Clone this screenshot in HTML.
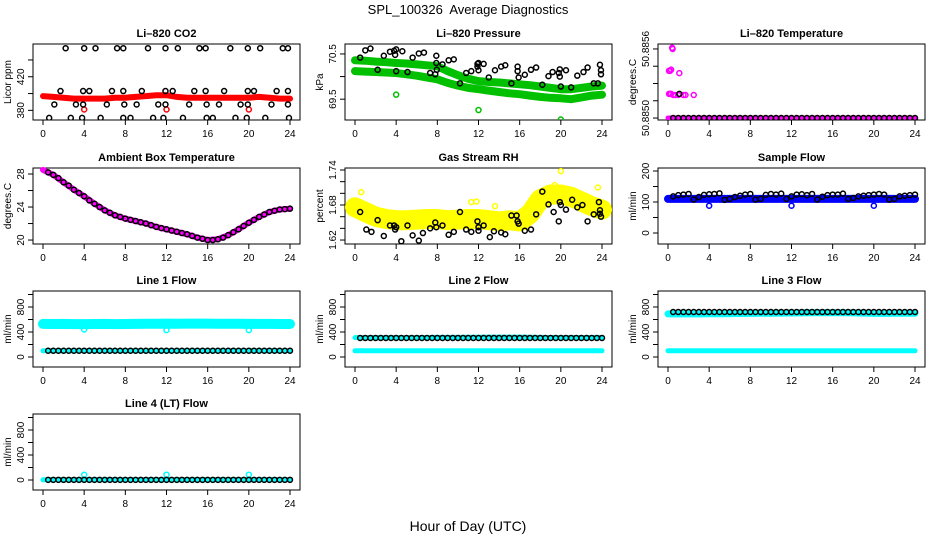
<!DOCTYPE html>
<html><head><meta charset="utf-8"><style>
html,body{margin:0;padding:0;background:#fff;}
svg{display:block;font-family:"Liberation Sans",sans-serif;}
</style></head><body>
<svg id="chart" width="936" height="540" viewBox="0 0 936 540">
<rect x="0" y="0" width="936" height="540" fill="#fff"/>
<text x="468" y="14" font-size="13" text-anchor="middle">SPL_100326&#160; Average Diagnostics</text>
<text x="468" y="531" font-size="14" text-anchor="middle">Hour of Day (UTC)</text>
</svg>
<script>
const HR=[0,1,2,3,4,5,6,7,8,9,10,11,12,13,14,15,16,17,18,19,20,21,22,23,24];
const HH=[0.5,1,1.5,2,2.5,3,3.5,4,4.5,5,5.5,6,6.5,7,7.5,8,8.5,9,9.5,10,10.5,11,11.5,12,12.5,13,13.5,14,14.5,15,15.5,16,16.5,17,17.5,18,18.5,19,19.5,20,20.5,21,21.5,22,22.5,23,23.5,24];
const xTicks=[0,4,8,12,16,20,24];
// CO2
const co2Red=[397,396,395,394,394,394,394,395,395,396,397,398,398,396,395,395,395,395,395,395,395,396,395,394,394];
const co2RedOutX=[4,12,20];
const co2RedOutY=[381,381,381];
const co2BlackX=[2.2,4.0,5.1,7.2,7.8,10.2,11.9,13.1,15.2,15.8,18.2,19.9,21.1,23.3,23.8,1.7,3.9,4.5,6.7,7.8,9.6,11.9,12.6,14.7,15.8,17.6,19.9,20.5,22.7,23.8,1.1,3.2,3.9,6.2,7.9,9.1,11.2,11.9,14.2,15.9,17.1,19.2,19.9,22.2,23.8,0.6,2.7,3.8,5.6,7.8,8.5,10.7,11.7,13.6,15.9,16.5,18.7,19.8,21.6,23.9];
const co2BlackY=[454,454,454,454,454,454,454,454,454,454,454,454,454,454,454,403,403,403,403,403,403,403,403,403,403,403,403,403,403,403,387,387,387,387,387,387,387,387,387,387,387,387,387,387,387,371,371,371,371,371,371,371,371,371,371,371,371,371,371,371];
// Pressure
const presUpper=[70.36,70.35,70.33,70.32,70.30,70.29,70.27,70.25,70.23,70.12,70.03,69.95,69.9,69.88,69.87,69.85,69.83,69.81,69.78,69.75,69.72,69.72,69.75,69.78,69.8];
const presLower=[70.12,70.11,70.1,70.09,70.08,70.05,70.02,69.98,69.94,69.86,69.8,69.75,69.72,69.69,69.66,69.63,69.61,69.58,69.55,69.53,69.52,69.5,69.54,69.58,69.6];
const presOutX=[4,12,20];
const presOutY=[69.6,69.26,69.05];
const presBlackX=[0.5,1,1.5,2.2,2.8,3.4,3.8,3.9,4,4,4.6,5.1,5.6,6.2,6.7,7.3,7.8,7.9,7.9,7.95,8.5,9.1,9.6,10.2,10.8,11.3,11.9,11.9,12,12,12.5,13,13.6,14.2,14.6,15.2,15.8,15.8,15.9,16.5,17.1,17.6,18.2,18.8,19.2,19.8,19.9,19.9,20,20.5,21,21.6,22.2,22.6,23.2,23.6,23.8,23.9,23.9];
const presBlackY=[70.42,70.58,70.62,70.15,70.46,70.55,70.57,70.48,70.6,70.12,70.56,70.1,70.42,70.51,70.53,70.08,70.05,70.46,70.3,70.15,70.27,70.36,70.38,69.85,70.08,70.12,70.28,70.22,70.3,70.14,70.28,69.98,70.14,70.22,70.25,69.85,70.22,70.12,69.98,70.04,70.15,70.2,69.82,70.01,70.1,70.08,70.16,70.0,69.78,70.14,69.76,70.02,70.1,70.2,69.85,69.85,70.26,70.14,70.05];
// Li-820 temperature
const tempBase=[50.885,50.885,50.885,50.885,50.885,50.885,50.885,50.885,50.885,50.885,50.885,50.885,50.885,50.885,50.885,50.885,50.885,50.885,50.885,50.885,50.885,50.885,50.885,50.885,50.885];
const tempOutX=[0.4,0.45,0.1,0.2,0.3,1.1,0.1,0.2,0.3,0.5,0.7,1.0,1.5,1.7,2.5];
const tempOutY=[50.88561,50.88560,50.88541,50.88541,50.88542,50.88539,50.88521,50.88521,50.88521,50.8852,50.8852,50.8852,50.8852,50.8852,50.8852];
const tempBlack=[50.885,50.885,50.885,50.885,50.885,50.885,50.885,50.885,50.885,50.885,50.885,50.885,50.885,50.885,50.885,50.885,50.885,50.885,50.885,50.885,50.885,50.885,50.885,50.885,50.885,50.885,50.885,50.885,50.885,50.885,50.885,50.885,50.885,50.885,50.885,50.885,50.885,50.885,50.885,50.885,50.885,50.885,50.885,50.885,50.885,50.885,50.885,50.885];
// Ambient
const ambCurve=[28.5,27.9,27.0,26.1,25.3,24.4,23.6,23.0,22.6,22.3,22.0,21.6,21.3,21.0,20.7,20.3,20.0,20.1,20.6,21.3,22.1,22.8,23.4,23.7,23.8];
const ambBlack=[28.2,27.9,27.5,27.0,26.6,26.1,25.7,25.3,24.8,24.4,24.0,23.6,23.3,23.0,22.8,22.6,22.45,22.3,22.15,22.0,21.8,21.6,21.45,21.3,21.15,21.0,20.85,20.7,20.5,20.3,20.15,20.0,20.0,20.1,20.3,20.6,20.95,21.3,21.7,22.1,22.45,22.8,23.1,23.4,23.55,23.7,23.75,23.8];
// RH
const rhYellow=[1.676,1.668,1.66,1.656,1.654,1.654,1.655,1.656,1.656,1.654,1.655,1.656,1.656,1.654,1.652,1.654,1.652,1.665,1.69,1.698,1.698,1.694,1.686,1.678,1.672];
const rhOutX=[20,0.6,11.3,11.8,13.6,19.4,23.6];
const rhOutY=[1.738,1.702,1.685,1.686,1.678,1.714,1.710];
const rhBlackX=[0.5,1.1,1.6,2.2,2.8,3.4,3.8,3.9,4,4.5,5.1,5.6,6.2,6.6,7.3,7.8,7.9,8.5,9.1,9.6,10.2,10.8,11.3,11.9,12,12,12.5,13.1,13.5,14.2,14.6,15.2,15.7,15.8,15.9,16.5,17.1,17.6,18.2,18.8,19.3,19.8,19.9,20,20.5,21.1,21.6,22.1,22.6,23.2,23.7,23.8,23.8,23.9];
const rhBlackY=[1.668,1.638,1.634,1.654,1.627,1.645,1.645,1.638,1.642,1.618,1.645,1.628,1.619,1.632,1.640,1.650,1.642,1.645,1.629,1.634,1.668,1.638,1.634,1.652,1.642,1.636,1.645,1.625,1.635,1.633,1.630,1.662,1.662,1.652,1.648,1.636,1.638,1.664,1.703,1.681,1.668,1.652,1.685,1.680,1.672,1.689,1.676,1.680,1.652,1.664,1.685,1.671,1.665,1.660];
// Sample flow
const sampBand=[110,110,110,110,110,110,110,110,110,110,110,110,110,110,110,110,110,110,110,110,110,110,110,110,110];
const sampOutX=[4,12,20];
const sampOutY=[88,88,88];
const sampBlack=[118,122,124,126,108,116,123,125,126,128,107,110,116,120,124,126,108,110,123,126,124,127,110,118,124,125,122,126,108,117,122,124,124,127,110,113,118,120,122,124,126,124,108,110,118,120,122,124];
// Line flows
const l1Band=[530,528,530,527,526,528,530,526,528,530,532,532,534,532,534,535,534,533,532,531,530,530,529,528,528];
const l1Base=[100,100,100,100,100,100,100,100,100,100,100,100,100,100,100,100,100,100,100,100,100,100,100,100,100];
const l1Black=[100,100,100,100,100,100,100,100,100,100,100,100,100,100,100,100,100,100,100,100,100,100,100,100,100,100,100,100,100,100,100,100,100,100,100,100,100,100,100,100,100,100,100,100,100,100,100,100];
const l2Band=[310,310,310,310,310,310,310,312,314,314,314,316,316,318,318,318,318,316,314,312,312,312,312,312,312];
const l2Base=[100,100,100,100,100,100,100,100,100,100,100,100,100,100,100,100,100,100,100,100,100,100,100,100,100];
const l2Black=[305,305,305,305,305,305,305,305,305,305,305,305,305,305,305,305,305,305,305,305,305,305,305,305,305,305,305,305,305,305,305,305,305,305,305,305,305,305,305,305,305,305,305,305,305,305,305,305];
const l3Band=[690,690,690,690,692,692,694,696,698,700,700,702,704,706,708,708,708,708,706,702,698,698,700,700,700];
const l3Base=[100,100,100,100,100,100,100,100,100,100,100,100,100,100,100,100,100,100,100,100,100,100,100,100,100];
const l3Black=[720,720,720,720,720,720,720,720,720,720,720,720,720,720,720,720,720,720,720,720,720,720,720,720,720,720,720,720,720,720,720,720,720,720,720,720,720,720,720,720,720,720,720,720,720,720,720,720];
const l4Base=[3,3,3,3,3,3,3,3,3,3,3,3,3,3,3,3,3,3,3,3,3,3,3,3,3];
const l4OutX=[4,12,20];
const l4OutY=[85,85,85];
const l4Black=[3,3,3,3,3,3,3,3,3,3,3,3,3,3,3,3,3,3,3,3,3,3,3,3,3,3,3,3,3,3,3,3,3,3,3,3,3,3,3,3,3,3,3,3,3,3,3,3];

const NS='http://www.w3.org/2000/svg';
const svg=document.getElementById('chart');
const COLS=[33,345,658], ROWS=[44,168,291,414], W=267, H=76;
function mk(tag,attrs,parent){const e=document.createElementNS(NS,tag);for(const k in attrs)e.setAttribute(k,attrs[k]);parent.appendChild(e);return e;}

function panel(o){
  const L=COLS[o.col],T=ROWS[o.row];
  const g=mk('g',{},svg);
  
  
  const sx=h=>L+10+h*(W-20)/24;
  const sy=v=>T+H-(v-o.ylo)/(o.yhi-o.ylo)*H;
  const t=mk('text',{x:L+W/2,y:T-7,'font-size':11,'font-weight':'bold','text-anchor':'middle'},g);
  t.textContent=o.title;
  
  
  const box=mk('rect',{x:L,y:T,width:W,height:H,fill:'none',stroke:'#000','stroke-width':1},g);
  
  
  xTicks.forEach(v=>{
    mk('line',{x1:sx(v),x2:sx(v),y1:T+H,y2:T+H+5,stroke:'#000'},g);
    const tl=mk('text',{x:sx(v),y:T+H+17,'font-size':10,'text-anchor':'middle'},g);
    tl.textContent=v;
    
    
  });
  o.ticks.forEach((v,i)=>{
    mk('line',{x1:L-5,x2:L,y1:sy(v),y2:sy(v),stroke:'#000'},g);
    if(o.labels[i]!==''){
      const tl=mk('text',{x:0,y:0,'font-size':10,'text-anchor':'middle',transform:`translate(${L-9},${sy(v)}) rotate(-90)`},g);
      tl.textContent=o.labels[i];
      
      
    }
  });
  const yl=mk('text',{x:0,y:0,'font-size':10,'text-anchor':'middle',transform:`translate(${L-22},${T+H/2}) rotate(-90)`},g);
  yl.textContent=o.ylab;
  
  
  const clipId='c'+o.col+o.row;
  const cp=mk('clipPath',{id:clipId},g);mk('rect',{x:L,y:T-6,width:W,height:H+6},cp);
  const pg=mk('g',{'clip-path':`url(#${clipId})`},g);
  return {sx,sy,g:pg};
}
function band(p,xs,ys,color,w,name){
  const pts=xs.map((x,i)=>p.sx(x).toFixed(1)+','+p.sy(ys[i]).toFixed(1)).join(' ');
  const pl=mk('polyline',{points:pts,fill:'none',stroke:color,'stroke-width':w,'stroke-linecap':'round','stroke-linejoin':'round'},p.g);
  
  
}
function pts(p,xs,ys,color,name){
  xs.forEach((x,i)=>{
    const c=mk('circle',{cx:p.sx(x),cy:p.sy(ys[i]),r:2.5,fill:'none',stroke:color,'stroke-width':1.5},p.g);
    
    
  });
}
const flowTicks=[0,200,400,600,800,1000], flowLabels=['0','','400','','800',''];

let p=panel({name:'co2',col:0,row:0,title:'Li\u2013820 CO2',ylab:'Licor ppm',ylo:368.5,yhi:459,ticks:[380,400,420,440],labels:['380','','420','']});
band(p,HR,co2Red,'#ff0000',6,'co2-band');
pts(p,co2RedOutX,co2RedOutY,'#ff0000','co2-outlier');
pts(p,co2BlackX,co2BlackY,'#000','co2-point');

p=panel({name:'pressure',col:1,row:0,title:'Li\u2013820 Pressure',ylab:'kPa',ylo:69.04,yhi:70.72,ticks:[69.5,70,70.5],labels:['69.5','','70.5']});
band(p,HR,presUpper,'#00c000',8,'pressure-band-upper');
band(p,HR,presLower,'#00c000',8,'pressure-band-lower');
pts(p,presOutX,presOutY,'#00c000','pressure-outlier');
pts(p,presBlackX,presBlackY,'#000','pressure-point');

p=panel({name:'li820-temp',col:2,row:0,title:'Li\u2013820 Temperature',ylab:'degrees.C',ylo:50.884983,yhi:50.885643,ticks:[50.885,50.88515,50.8853,50.88545,50.8856],labels:['50.8850','','','','50.8856']});
band(p,HR,tempBase,'#ff00ff',5,'temp-band');
pts(p,tempOutX,tempOutY,'#ff00ff','temp-outlier');
pts(p,HH,tempBlack,'#000','temp-point');
pts(p,[1.1],[50.88521],'#000','temp-point');

p=panel({name:'ambient',col:0,row:1,title:'Ambient Box Temperature',ylab:'degrees.C',ylo:19.52,yhi:28.73,ticks:[20,22,24,26,28],labels:['20','','24','','28']});
band(p,HR,ambCurve,'#ff00ff',6,'ambient-band');
pts(p,HH,ambBlack,'#000','ambient-point');

p=panel({name:'rh',col:1,row:1,title:'Gas Stream RH',ylab:'percent',ylo:1.6132,yhi:1.7434,ticks:[1.62,1.64,1.66,1.68,1.70,1.72,1.74],labels:['1.62','','','1.68','','','1.74']});
band(p,HR,rhYellow,'#ffff00',20,'rh-band');
pts(p,rhOutX,rhOutY,'#ffff00','rh-outlier');
pts(p,rhBlackX,rhBlackY,'#000','rh-point');

p=panel({name:'sample-flow',col:2,row:1,title:'Sample Flow',ylab:'ml/min',ylo:-35.5,yhi:209.7,ticks:[0,50,100,150,200],labels:['0','','100','','200']});
band(p,HR,sampBand,'#0000ff',8,'sample-band');
pts(p,sampOutX,sampOutY,'#0000ff','sample-outlier');
pts(p,HH,sampBlack,'#000','sample-point');

p=panel({name:'line1',col:0,row:2,title:'Line 1 Flow',ylab:'ml/min',ylo:-160,yhi:1056,ticks:flowTicks,labels:flowLabels});
band(p,HR,l1Band,'#00ffff',10,'line1-band');
band(p,HR,l1Base,'#00ffff',5,'line1-base');
pts(p,[4,12,20],[440,430,430],'#00ffff','line1-outlier');
pts(p,HH,l1Black,'#000','line1-point');

p=panel({name:'line2',col:1,row:2,title:'Line 2 Flow',ylab:'ml/min',ylo:-160,yhi:1056,ticks:flowTicks,labels:flowLabels});
band(p,HR,l2Band,'#00ffff',5,'line2-band');
band(p,HR,l2Base,'#00ffff',5,'line2-base');
pts(p,HH,l2Black,'#000','line2-point');

p=panel({name:'line3',col:2,row:2,title:'Line 3 Flow',ylab:'ml/min',ylo:-160,yhi:1056,ticks:flowTicks,labels:flowLabels});
band(p,HR,l3Band,'#00ffff',7,'line3-band');
band(p,HR,l3Base,'#00ffff',5,'line3-base');
pts(p,HH,l3Black,'#000','line3-point');

p=panel({name:'line4',col:0,row:3,title:'Line 4 (LT) Flow',ylab:'ml/min',ylo:-160,yhi:1056,ticks:flowTicks,labels:flowLabels});
band(p,HR,l4Base,'#00ffff',5,'line4-band');
pts(p,l4OutX,l4OutY,'#00ffff','line4-outlier');
pts(p,HH,l4Black,'#000','line4-point');
</script>
</body></html>
